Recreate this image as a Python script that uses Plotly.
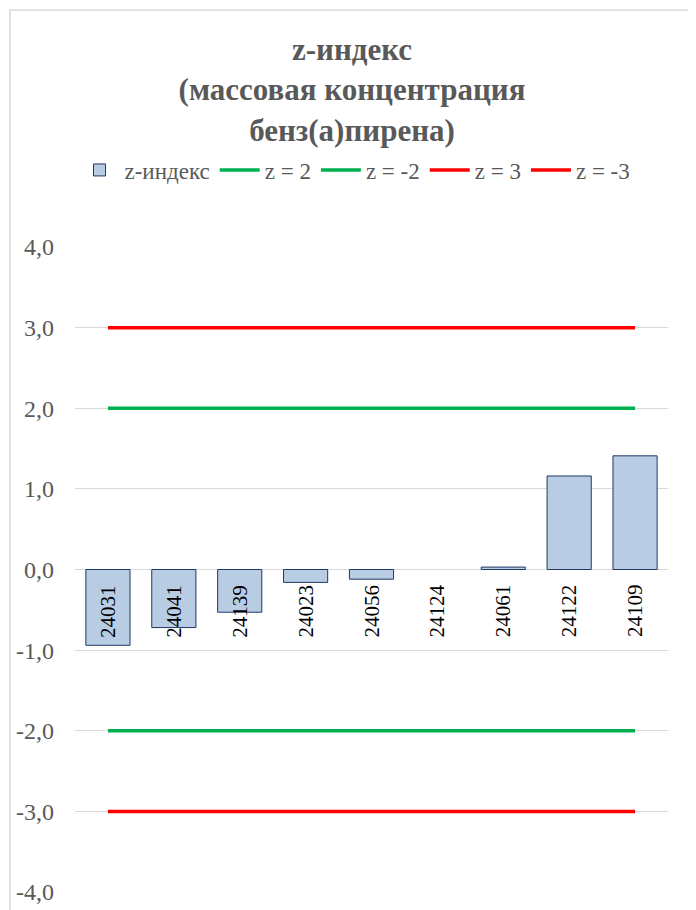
import plotly.graph_objects as go

categories = ["24031", "24041", "24139", "24023", "24056", "24124", "24061", "24122", "24109"]
z_values = [-0.94, -0.72, -0.53, -0.16, -0.12, 0.0, 0.03, 1.16, 1.41]
z_pos2 = [2] * len(categories)
z_neg2 = [-2] * len(categories)
z_pos3 = [3] * len(categories)
z_neg3 = [-3] * len(categories)
tick_vals = [-4, -3, -2, -1, 0, 1, 2, 3, 4]
tick_labels = ["-4,0", "-3,0", "-2,0", "-1,0", "0,0", "1,0", "2,0", "3,0", "4,0"]

GRAY = "#595959"
FONT = "Liberation Serif"

fig = go.Figure()
fig.add_trace(go.Bar(x=categories, y=z_values, name="z-индекс",
                     marker=dict(color="#B8CCE4",
                                 line=dict(color="#1F3864",
                                           width=[1 if v != 0 else 0 for v in z_values]))))
fig.add_trace(go.Scatter(x=categories, y=z_pos2, name="z = 2", mode="lines",
                         line=dict(color="#00B050", width=3.5)))
fig.add_trace(go.Scatter(x=categories, y=z_neg2, name="z = -2", mode="lines",
                         line=dict(color="#00B050", width=3.5)))
fig.add_trace(go.Scatter(x=categories, y=z_pos3, name="z = 3", mode="lines",
                         line=dict(color="#FF0000", width=3.5)))
fig.add_trace(go.Scatter(x=categories, y=z_neg3, name="z = -3", mode="lines",
                         line=dict(color="#FF0000", width=3.5)))

# category labels drawn inside the plot, just below the zero line
for i, c in enumerate(categories):
    fig.add_annotation(x=i, y=0, text=c, textangle=-90, showarrow=False,
                       yanchor="top", yshift=-13,
                       font=dict(family=FONT, size=21, color="#000000"))

fig.add_shape(type="rect", xref="paper", yref="paper",
              x0=(10 - 75) / 593, x1=(693 - 75) / 593,
              y0=-0.1, y1=(892 - 10) / 645,
              line=dict(color="#D9D9D9", width=1.5), fillcolor="rgba(0,0,0,0)", layer="below")

fig.update_layout(
    width=688, height=902,
    margin=dict(l=67, r=28, t=239, b=18, autoexpand=False),
    paper_bgcolor="white", plot_bgcolor="white",
    bargap=0.33,
    title=dict(text="<b>z-индекс<br>(массовая концентрация<br>бенз(а)пирена)</b>",
               x=(352 - 8) / 688, xanchor="center", xref="container", yref="container",
               y=1 - 52 / 902, yanchor="top",
               font=dict(family=FONT, size=31, color=GRAY)),
    legend=dict(orientation="h", x=(355 - 75) / 593, xanchor="center", xref="paper",
                y=(892 - 170) / 645, yanchor="middle",
                font=dict(family=FONT, size=23, color=GRAY),
                traceorder="normal", itemwidth=40),
    showlegend=True,
    font=dict(family=FONT, color=GRAY),
)
fig.update_xaxes(type="category", range=[-0.5, len(categories) - 0.5],
                 showticklabels=False, showgrid=False, zeroline=False,
                 showline=False, ticks="")
fig.update_yaxes(range=[-4, 4], tickvals=tick_vals, ticktext=tick_labels,
                 showgrid=True, gridcolor="#D9D9D9", gridwidth=1.3,
                 zeroline=True, zerolinecolor="#D9D9D9", zerolinewidth=1.3,
                 showline=False, ticks="", ticklabelstandoff=20,
                 tickfont=dict(family=FONT, size=24, color=GRAY))

fig.write_html("out.html")
